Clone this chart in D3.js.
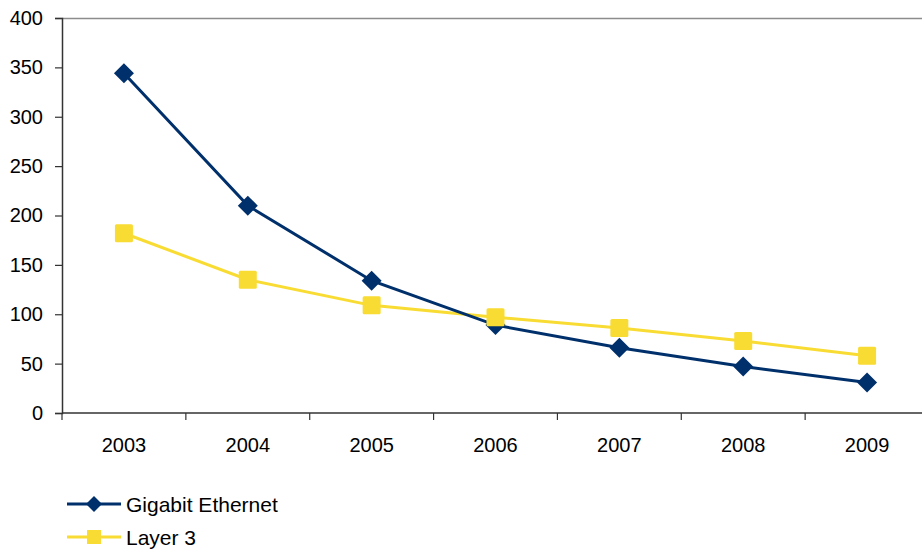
<!DOCTYPE html>
<html>
<head>
<meta charset="utf-8">
<script src="https://cdn.jsdelivr.net/npm/d3@7"></script>
<style>
  html, body { margin: 0; padding: 0; background: #fff; }
  svg { display: block; font-family: "Liberation Sans", Arial, sans-serif; }
</style>
</head>
<body>
<svg id="chart" width="922" height="549"></svg>
<script>
const years = ["2003", "2004", "2005", "2006", "2007", "2008", "2009"];
const gigabitEthernet = [344, 210, 134, 89, 66, 47, 31];
const layer3 = [182, 135, 109, 97, 86, 73, 58];
const yTicks = [0, 50, 100, 150, 200, 250, 300, 350, 400];

const seriesList = [
  { name: "Gigabit Ethernet", values: gigabitEthernet, color: "#00306B", marker: "diamond" },
  { name: "Layer 3", values: layer3, color: "#F9DC33", marker: "square" }
];

const FONT = "Liberation Sans, Arial, sans-serif";
const svg = d3.select("#chart");
const plot = { left: 62, right: 929, top: 18, bottom: 413 };

const x = d3.scaleBand().domain(years).range([plot.left, plot.right]);
const y = d3.scaleLinear().domain([0, 400]).range([plot.bottom, plot.top]);

// top frame line
svg.append("line")
  .attr("x1", plot.left).attr("x2", plot.right)
  .attr("y1", plot.top + 0.5).attr("y2", plot.top + 0.5)
  .attr("stroke", "#8c8c8c").attr("stroke-width", 1.5);

// y axis
const yAxis = svg.append("g")
  .attr("transform", `translate(${plot.left},0)`)
  .call(d3.axisLeft(y).tickValues(yTicks).tickSize(7).tickPadding(12));
yAxis.select(".domain").attr("stroke", "#333").attr("stroke-width", 1.5);
yAxis.selectAll(".tick line").attr("stroke", "#333").attr("stroke-width", 1.2);
yAxis.selectAll("text").attr("font-size", 20).attr("fill", "#000")
  .attr("font-family", FONT);

// x axis: ticks at category boundaries, labels centred in bands
const xAxis = svg.append("g").attr("transform", `translate(0,${plot.bottom})`);
xAxis.append("line")
  .attr("x1", plot.left).attr("x2", plot.right)
  .attr("stroke", "#333").attr("stroke-width", 1.5);
const boundaries = years.map(d => x(d)).concat([x(years[years.length - 1]) + x.bandwidth()]);
xAxis.selectAll("line.tk").data(boundaries).join("line").attr("class", "tk")
  .attr("x1", d => d).attr("x2", d => d).attr("y1", 0).attr("y2", 7)
  .attr("stroke", "#333").attr("stroke-width", 1.2);
xAxis.selectAll("text").data(years).join("text")
  .attr("x", d => x(d) + x.bandwidth() / 2)
  .attr("y", 39)
  .attr("text-anchor", "middle")
  .attr("font-size", 20).attr("fill", "#000")
  .text(d => d);

const cx = d => x(d) + x.bandwidth() / 2;

function drawMarker(g, type, color) {
  if (type === "diamond") {
    g.append("path").attr("d", "M0,-10L10,0L0,10L-10,0Z").attr("fill", color);
  } else {
    g.append("rect").attr("x", -9).attr("y", -9).attr("width", 18).attr("height", 18)
      .attr("rx", 1.5).attr("fill", color);
  }
}

// lines: yellow underneath navy
[seriesList[1], seriesList[0]].forEach(s => {
  const line = d3.line().x((d, i) => cx(years[i])).y(d => y(d));
  svg.append("path").datum(s.values)
    .attr("d", line).attr("fill", "none")
    .attr("stroke", s.color).attr("stroke-width", 3);
});
// markers: squares drawn over diamonds
[seriesList[0], seriesList[1]].forEach(s => {
  s.values.forEach((v, i) => {
    const g = svg.append("g").attr("transform", `translate(${cx(years[i])},${y(v)})`);
    drawMarker(g, s.marker, s.color);
  });
});

// legend
const legend = svg.append("g");
seriesList.forEach((s, i) => {
  const ly = 504 + i * 33;
  legend.append("line").attr("x1", 67).attr("x2", 121).attr("y1", ly).attr("y2", ly)
    .attr("stroke", s.color).attr("stroke-width", 3);
  const g = legend.append("g").attr("transform", `translate(94,${ly})`);
  if (s.marker === "diamond") {
    g.append("path").attr("d", "M0,-8L8,0L0,8L-8,0Z").attr("fill", s.color);
  } else {
    g.append("rect").attr("x", -7).attr("y", -7).attr("width", 14).attr("height", 14).attr("fill", s.color);
  }
  legend.append("text").attr("x", 126).attr("y", ly + 8)
    .attr("font-size", 21).attr("fill", "#000").text(s.name);
});
</script>
</body>
</html>
